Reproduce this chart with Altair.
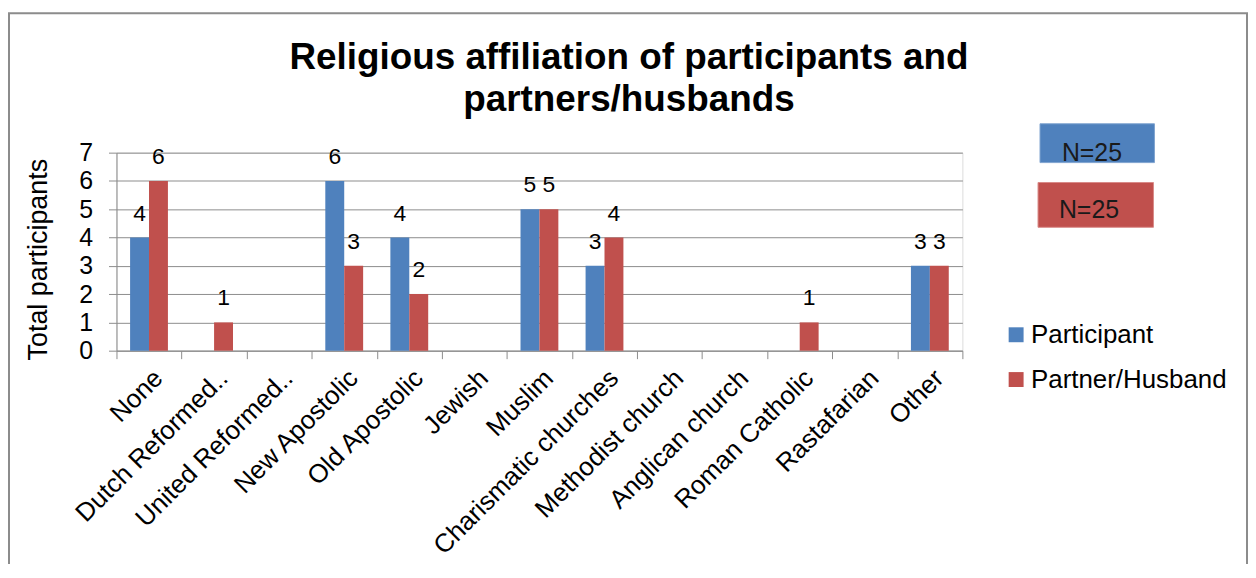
import altair as alt
import pandas as pd

categories = ["None", "Dutch Reformed..", "United Reformed..", "New Apostolic",
              "Old Apostolic", "Jewish", "Muslim", "Charismatic churches",
              "Methodist church", "Anglican church", "Roman Catholic",
              "Rastafarian", "Other"]
participant = [4, 0, 0, 6, 4, 0, 5, 3, 0, 0, 0, 0, 3]
partner = [6, 1, 0, 3, 2, 0, 5, 4, 0, 0, 1, 0, 3]
series = ["Participant", "Partner/Husband"]
colors = ["#4F81BD", "#C0504D"]
sample_sizes = ["N=25", "N=25"]
title_lines = ["Religious affiliation of participants and", "partners/husbands"]
y_ticks = [0, 1, 2, 3, 4, 5, 6, 7]

rows = []
for c, a, b in zip(categories, participant, partner):
    rows.append({"category": c, "series": series[0], "value": a})
    rows.append({"category": c, "series": series[1], "value": b})
df = pd.DataFrame(rows)

FONT = "Liberation Sans"
GRAY = "#8c8c8c"

x_enc = alt.X(
    "category:N", sort=categories,
    scale=alt.Scale(paddingInner=0, paddingOuter=0),
    axis=alt.Axis(title=None, labelAngle=-45, labelFontSize=26, labelFont=FONT,
                  labelColor="black", labelPadding=6, tickBand="extent",
                  tickSize=8, tickColor=GRAY, domainColor=GRAY, grid=False,
                  labelOverlap=False, labelLimit=0),
)
y_enc = alt.Y(
    "value:Q",
    scale=alt.Scale(domain=[0, 7], nice=False),
    axis=alt.Axis(values=y_ticks, title="Total participants", titleFontSize=27,
                  titleFont=FONT, titleFontWeight="normal", titleColor="black",
                  titleX=-70, titleY=107, titleAngle=270, titleBaseline="alphabetic",
                  titleAlign="center",
                  labelFontSize=25, labelFont=FONT, labelColor="black",
                  labelPadding=16, tickSize=8, tickColor=GRAY, domainColor=GRAY,
                  grid=True, gridColor=GRAY, gridWidth=1),
)
xoff = alt.XOffset("series:N", sort=series,
                   scale=alt.Scale(paddingOuter=0.72, paddingInner=0))

frame = alt.Chart(pd.DataFrame({"k": [0]})).mark_rect(
    fill="white", fillOpacity=0, stroke=GRAY, strokeWidth=2
).encode(x=alt.value(-108), x2=alt.value(1136), y=alt.value(-140), y2=alt.value(430))

bars = alt.Chart(df).mark_bar().encode(
    x=x_enc, y=y_enc, xOffset=xoff,
    color=alt.Color("series:N", sort=series,
                    scale=alt.Scale(domain=series, range=colors),
                    legend=alt.Legend(title=None, orient="none", legendX=891, legendY=170,
                                      symbolType="square", symbolSize=225,
                                      symbolStrokeWidth=0, symbolOpacity=1,
                                      labelFontSize=26, labelFont=FONT,
                                      labelColor="black", labelOffset=2,
                                      rowPadding=19, labelLimit=0, padding=0)),
)

labels = alt.Chart(df).transform_filter("datum.value > 0").mark_text(
    dy=-17, baseline="alphabetic", fontSize=23, font=FONT, color="black"
).encode(x=x_enc, y=y_enc, xOffset=xoff, text="value:Q")

box1 = alt.Chart(pd.DataFrame({"t": [sample_sizes[0]]})).mark_rect(
    fill=colors[0], stroke="#7fa3d0", strokeWidth=1
).encode(x=alt.value(928), x2=alt.value(1043), y=alt.value(-29), y2=alt.value(10))
box2 = alt.Chart(pd.DataFrame({"t": [sample_sizes[1]]})).mark_rect(
    fill=colors[1], stroke="#d98a88", strokeWidth=1
).encode(x=alt.value(926), x2=alt.value(1042), y=alt.value(30), y2=alt.value(75))
t1 = alt.Chart(pd.DataFrame({"t": [sample_sizes[0]]})).mark_text(
    align="left", baseline="alphabetic", fontSize=25, font=FONT, color="#1a1a1a"
).encode(x=alt.value(950), y=alt.value(8), text="t:N")
t2 = alt.Chart(pd.DataFrame({"t": [sample_sizes[1]]})).mark_text(
    align="left", baseline="alphabetic", fontSize=25, font=FONT, color="#1a1a1a"
).encode(x=alt.value(947), y=alt.value(66), text="t:N")

chart = alt.layer(frame, bars, labels, box1, box2, t1, t2).properties(
    width=850, height=199,
    autosize=alt.AutoSizeParams(type="none"),
    padding={"left": 109, "top": 144, "right": 287, "bottom": 213},
    title=alt.Title(title_lines, fontSize=37, fontWeight="bold", font=FONT,
                    color="black", anchor="middle", frame="group", dx=90,
                    offset=0, dy=136, baseline="alphabetic", lineHeight=42),
).configure_view(stroke=None).configure(background="white")

chart.save("out.html", embed_options={"renderer": "svg", "actions": False})
